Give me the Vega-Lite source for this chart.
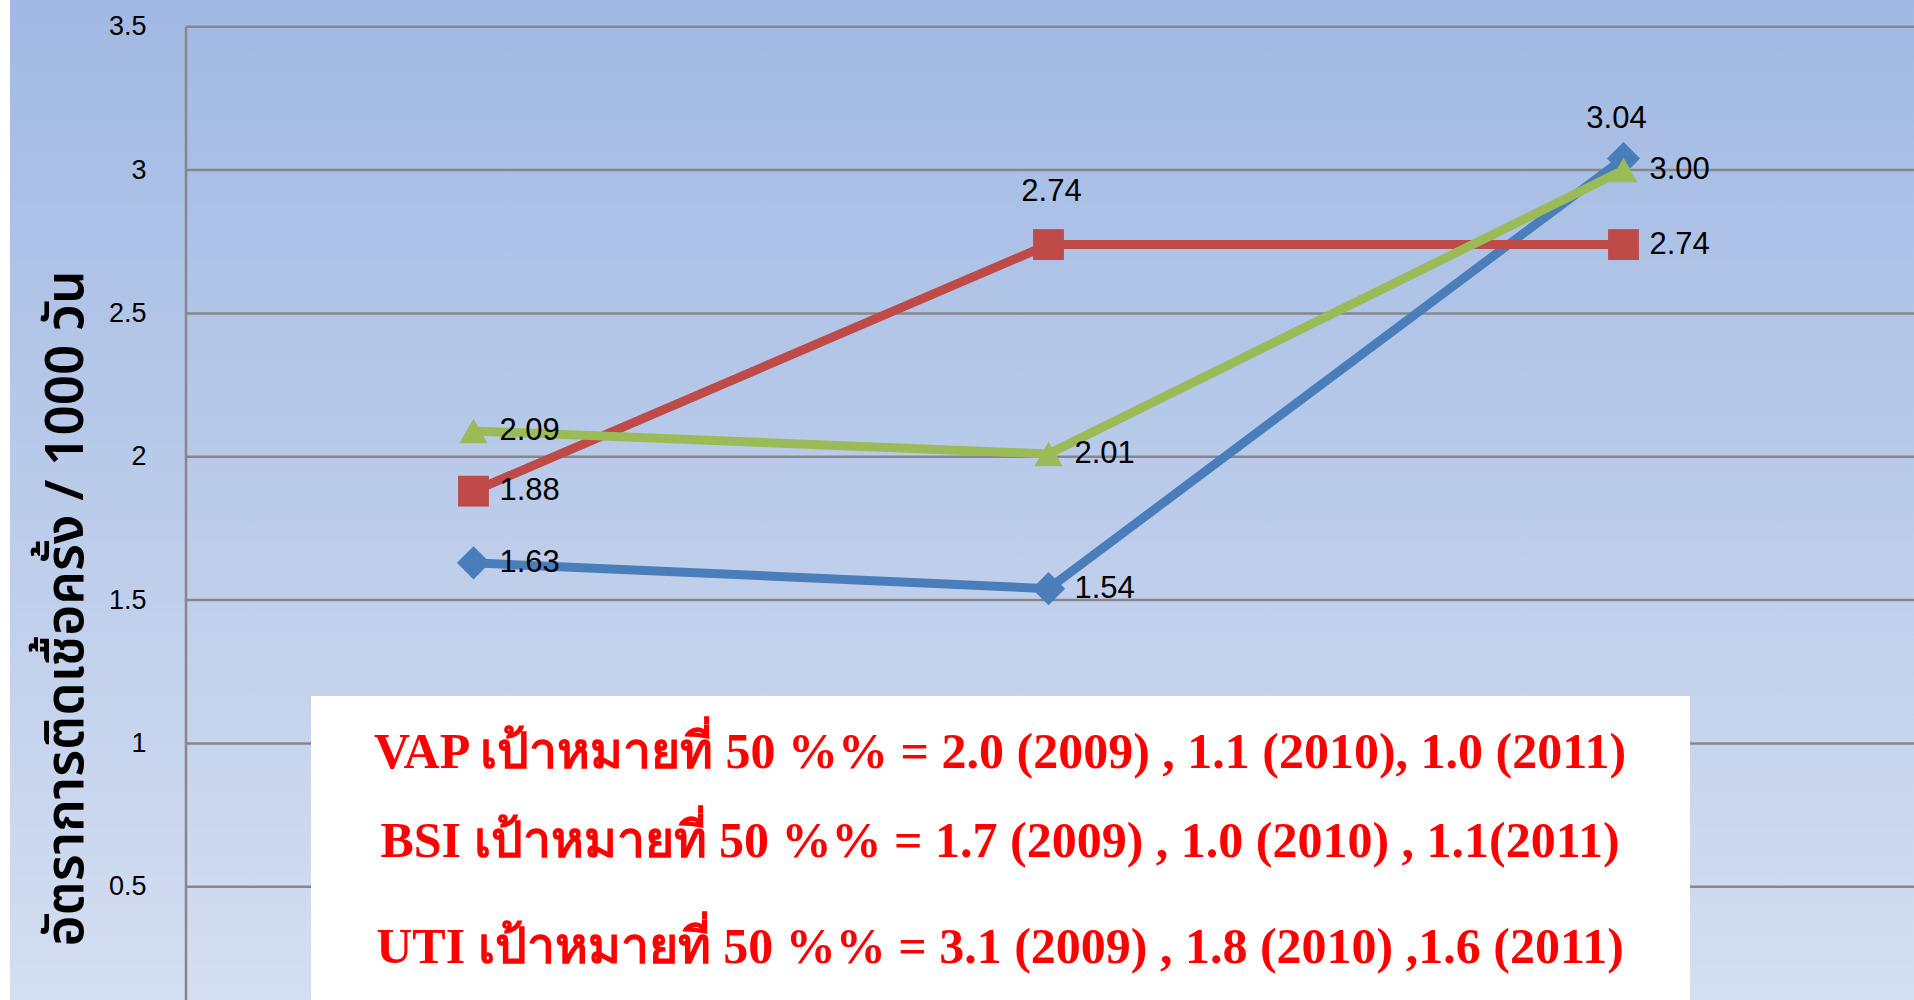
{
  "$schema": "https://vega.github.io/schema/vega-lite/v6.json",
  "width": 1904,
  "height": 1000,
  "autosize": {"type": "none"},
  "padding": {"left": 10, "top": 0, "right": 0, "bottom": 0},
  "background": "white",
  "config": {
    "view": {
      "stroke": null,
      "fill": {"gradient": "linear", "x1": 0, "y1": 0, "x2": 0, "y2": 1,
        "stops": [{"offset": 0, "color": "#A1B9E3"}, {"offset": 1, "color": "#D4DEF1"}]}
    }
  },
  "datasets": {
    "rates": [
      {"type": "VAP", "year": 2009, "rate": 1.63},
      {"type": "VAP", "year": 2010, "rate": 1.54},
      {"type": "VAP", "year": 2011, "rate": 3.04},
      {"type": "BSI", "year": 2009, "rate": 1.88},
      {"type": "BSI", "year": 2010, "rate": 2.74},
      {"type": "BSI", "year": 2011, "rate": 2.74},
      {"type": "UTI", "year": 2009, "rate": 2.09},
      {"type": "UTI", "year": 2010, "rate": 2.01},
      {"type": "UTI", "year": 2011, "rate": 3.00}
    ],
    "grid": [{"v": 0.5}, {"v": 1}, {"v": 1.5}, {"v": 2}, {"v": 2.5}, {"v": 3}, {"v": 3.5}]
  },
  "layer": [
    {
      "data": {"name": "grid"},
      "mark": {"type": "rule", "color": "#878787", "strokeWidth": 2.5},
      "encoding": {
        "y": {"field": "v", "type": "quantitative",
          "scale": {"domain": [0.1052, 3.5931], "nice": false, "zero": false},
          "axis": {
            "values": [0.5, 1, 1.5, 2, 2.5, 3, 3.5], "format": "~g",
            "offset": -176, "domain": false, "ticks": false, "grid": false,
            "labelPadding": 40, "labelFont": "Liberation Sans", "labelFontSize": 27,
            "labelColor": "#000000",
            "title": "อัตราการติดเชื้อครั้ง / 1000 วัน",
            "titleFont": "Noto Sans Thai, Noto Sans, DejaVu Sans, sans-serif",
            "titleFontSize": 53, "titleFontWeight": 600, "titleColor": "#000000",
            "titleAngle": -90, "titleAlign": "center", "titleBaseline": "alphabetic",
            "titleX": -104, "titleY": 608
          }
        },
        "x": {"datum": 2008.5, "type": "quantitative",
          "scale": {"domain": [2008.19391, 2011.50522], "nice": false, "zero": false},
          "axis": null},
        "x2": {"datum": 2011.50522}
      }
    },
    {
      "data": {"values": [{}]},
      "mark": {"type": "rule", "color": "#878787", "strokeWidth": 2.5},
      "encoding": {
        "x": {"datum": 2008.5, "type": "quantitative", "axis": null},
        "y": {"datum": 3.5, "type": "quantitative"},
        "y2": {"datum": 0.1052}
      }
    },
    {
      "data": {"name": "rates"},
      "mark": {"type": "line", "strokeWidth": 9},
      "encoding": {
        "x": {"field": "year", "type": "quantitative", "axis": null},
        "y": {"field": "rate", "type": "quantitative"},
        "color": {"field": "type", "type": "nominal",
          "scale": {"domain": ["VAP", "BSI", "UTI"], "range": ["#4A7EBB", "#BE4B48", "#9BBB59"]},
          "legend": null}
      }
    },
    {
      "data": {"name": "rates"},
      "mark": {"type": "point", "filled": true, "opacity": 1},
      "encoding": {
        "x": {"field": "year", "type": "quantitative", "axis": null},
        "y": {"field": "rate", "type": "quantitative"},
        "color": {"field": "type", "type": "nominal", "legend": null},
        "shape": {"field": "type", "type": "nominal",
          "scale": {"domain": ["VAP", "BSI", "UTI"], "range": ["diamond", "square", "triangle-up"]},
          "legend": null},
        "size": {"field": "type", "type": "nominal",
          "scale": {"domain": ["VAP", "BSI", "UTI"], "range": [1100, 800, 1000]},
          "legend": null}
      }
    },
    {
      "data": {"name": "rates"},
      "transform": [{"filter": "!((datum.type == 'VAP' && datum.year == 2011) || (datum.type == 'BSI' && datum.year == 2010))"}],
      "mark": {"type": "text", "align": "left", "baseline": "middle", "dx": 26, "font": "Liberation Sans", "fontSize": 31, "color": "#000000"},
      "encoding": {
        "x": {"field": "year", "type": "quantitative", "axis": null},
        "y": {"field": "rate", "type": "quantitative"},
        "text": {"field": "rate", "type": "quantitative", "format": ".2f"}
      }
    },
    {
      "data": {"name": "rates"},
      "transform": [{"filter": "datum.type == 'VAP' && datum.year == 2011"}],
      "mark": {"type": "text", "align": "center", "baseline": "middle", "dx": -7, "dy": -40, "font": "Liberation Sans", "fontSize": 31, "color": "#000000"},
      "encoding": {
        "x": {"field": "year", "type": "quantitative", "axis": null},
        "y": {"field": "rate", "type": "quantitative"},
        "text": {"field": "rate", "type": "quantitative", "format": ".2f"}
      }
    },
    {
      "data": {"name": "rates"},
      "transform": [{"filter": "datum.type == 'BSI' && datum.year == 2010"}],
      "mark": {"type": "text", "align": "center", "baseline": "middle", "dx": 3, "dy": -53, "font": "Liberation Sans", "fontSize": 31, "color": "#000000"},
      "encoding": {
        "x": {"field": "year", "type": "quantitative", "axis": null},
        "y": {"field": "rate", "type": "quantitative"},
        "text": {"field": "rate", "type": "quantitative", "format": ".2f"}
      }
    },
    {
      "data": {"values": [{}]},
      "mark": {"type": "rect", "fill": "#FFFFFF"},
      "encoding": {
        "x": {"datum": 2008.7174, "type": "quantitative", "axis": null},
        "x2": {"datum": 2011.1157},
        "y": {"datum": 1.1655, "type": "quantitative"},
        "y2": {"datum": 0.1052}
      }
    },
    {
      "data": {"values": [{}]},
      "mark": {"type": "text", "align": "center", "baseline": "alphabetic", "font": "Liberation Serif", "fontWeight": "bold", "fontSize": 50, "color": "#FF0000"},
      "encoding": {
        "x": {"datum": 2009.9157, "type": "quantitative", "axis": null},
        "y": {"datum": 0.9144, "type": "quantitative"},
        "text": {"value": "VAP  เป้าหมายที่ 50 %%  = 2.0 (2009) , 1.1 (2010), 1.0 (2011)"}
      }
    },
    {
      "data": {"values": [{}]},
      "mark": {"type": "text", "align": "center", "baseline": "alphabetic", "font": "Liberation Serif", "fontWeight": "bold", "fontSize": 50, "color": "#FF0000"},
      "encoding": {
        "x": {"datum": 2009.9157, "type": "quantitative", "axis": null},
        "y": {"datum": 0.604, "type": "quantitative"},
        "text": {"value": "BSI   เป้าหมายที่ 50 %%  = 1.7 (2009) , 1.0 (2010) , 1.1(2011)"}
      }
    },
    {
      "data": {"values": [{}]},
      "mark": {"type": "text", "align": "center", "baseline": "alphabetic", "font": "Liberation Serif", "fontWeight": "bold", "fontSize": 50, "color": "#FF0000"},
      "encoding": {
        "x": {"datum": 2009.9157, "type": "quantitative", "axis": null},
        "y": {"datum": 0.2342, "type": "quantitative"},
        "text": {"value": "UTI   เป้าหมายที่ 50 %% = 3.1 (2009) , 1.8  (2010) ,1.6 (2011)"}
      }
    }
  ]
}
